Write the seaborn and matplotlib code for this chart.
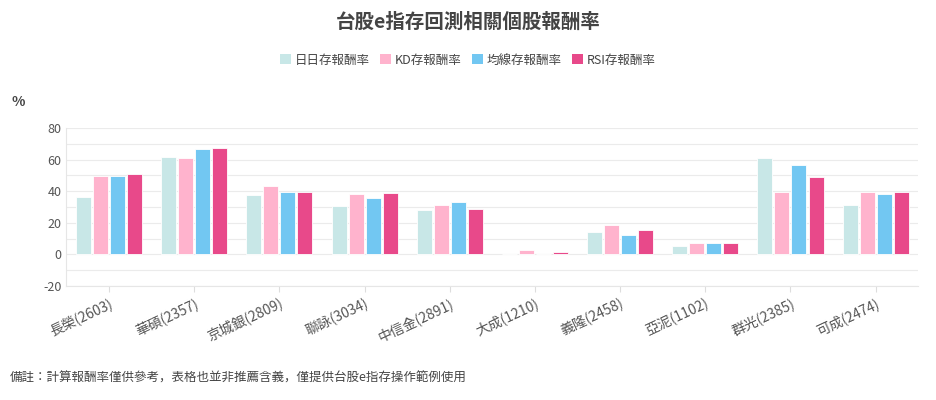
import matplotlib
matplotlib.use("Agg")
import matplotlib.pyplot as plt
from matplotlib import font_manager
import seaborn as sns
import pandas as pd
from matplotlib.patches import Patch

cjk = [f.name for f in font_manager.fontManager.ttflist if "CJK" in f.name]
pref = [n for n in ["Noto Sans CJK TC", "Noto Sans CJK JP", "Noto Sans CJK SC", "Noto Sans CJK KR"] if n in cjk]
plt.rcParams["font.family"] = "sans-serif"
plt.rcParams["font.sans-serif"] = pref + sorted(set(cjk)) + ["DejaVu Sans"]
plt.rcParams["axes.unicode_minus"] = False

categories = ["長榮(2603)", "華碩(2357)", "京城銀(2809)", "聯詠(3034)", "中信金(2891)",
              "大成(1210)", "義隆(2458)", "亞泥(1102)", "群光(2385)", "可成(2474)"]
series = ["日日存報酬率", "KD存報酬率", "均線存報酬率", "RSI存報酬率"]
daily = [36.5, 61.8, 37.3, 30.8, 28.0, 0.3, 14.3, 5.5, 61.2, 31.3]
kd = [49.8, 61.3, 43.4, 38.3, 31.0, 2.8, 18.3, 7.3, 39.8, 39.2]
ma = [49.4, 66.4, 39.8, 36.0, 33.0, 0.5, 12.0, 7.4, 56.6, 38.2]
rsi = [51.1, 67.1, 39.4, 39.0, 29.0, 1.5, 15.3, 7.0, 48.8, 39.8]
colors = ["#c8e7e7", "#ffb3cd", "#72c7f2", "#e8498a"]

rows = []
for s, vals in zip(series, [daily, kd, ma, rsi]):
    for c, v in zip(categories, vals):
        rows.append({"cat": c, "series": s, "value": v})
df = pd.DataFrame(rows)

fig = plt.figure(figsize=(9.36, 4.0), dpi=100)
ax = fig.add_axes([0.071, 0.285, 0.91, 0.395])
sns.barplot(data=df, x="cat", y="value", hue="series", palette=colors, saturation=1,
            ax=ax, width=0.8, gap=0.12, edgecolor="white", linewidth=0.6, legend=False)
ax.set_ylim(-20, 80)
ax.set_yticks([-20, 0, 20, 40, 60, 80])
ax.set_yticks([-10, 10, 30, 50, 70], minor=True)
ax.grid(axis="y", which="both", color="#ebebeb", linewidth=0.8)
ax.set_axisbelow(True)
ax.tick_params(axis="y", which="both", length=0, labelsize=9, labelcolor="#555555")
ax.tick_params(axis="x", length=4, color="#dddddd", labelsize=10, labelcolor="#555555")
plt.setp(ax.get_xticklabels(), rotation=25, ha="right", rotation_mode="anchor")
ax.set_xlabel("")
ax.set_ylabel("")
for sp in ["top", "right"]:
    ax.spines[sp].set_visible(False)
ax.spines["left"].set_color("#e6e6e6")
ax.spines["bottom"].set_color("#e6e6e6")
ax.set_xlim(-0.5, 9.5)

fig.text(0.5, 0.945, "台股e指存回測相關個股報酬率", ha="center", va="center",
         fontsize=14, fontweight="bold", color="#444444")
fig.text(0.012, 0.735, "%", fontsize=10, fontweight="bold", color="#444444")
fig.text(0.01, 0.045, "備註：計算報酬率僅供參考，表格也並非推薦含義，僅提供台股e指存操作範例使用",
         fontsize=9, color="#444444")

handles = [Patch(facecolor=c, edgecolor="none") for c in colors]
fig.legend(handles, series, loc="center", bbox_to_anchor=(0.5, 0.85), ncol=4,
           frameon=False, fontsize=9, handlelength=0.9, handleheight=0.9,
           handletextpad=0.3, columnspacing=0.8, labelcolor="#444444")

fig.savefig("out.png", dpi=100)
